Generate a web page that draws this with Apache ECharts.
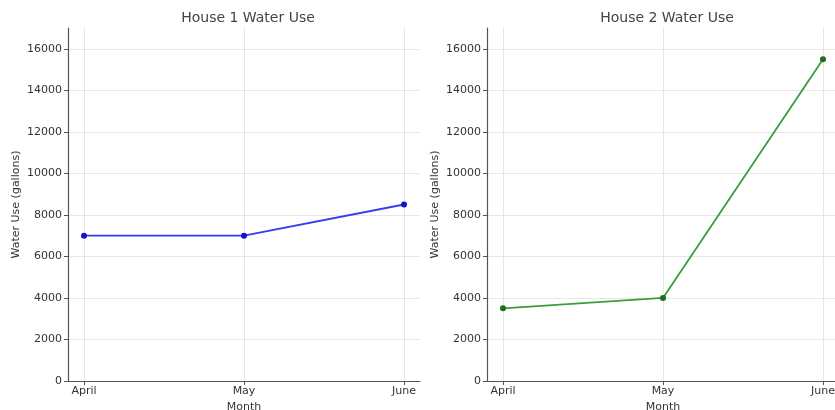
<!DOCTYPE html>
<html>
<head>
<meta charset="utf-8">
<script src="https://cdn.jsdelivr.net/npm/echarts@6/dist/echarts.min.js"></script>
<style>
html,body{margin:0;padding:0;background:#fff;}
#chart{width:835px;height:410px;}
</style>
</head>
<body>
<div id="chart"></div>
<script>
// 数据
var months = ['April', 'May', 'June'];
var house1 = [7000, 7000, 8500];
var house2 = [3500, 4000, 15500];
var titles = ['House 1 Water Use', 'House 2 Water Use'];

var font = 'DejaVu Sans';
var axisColor = '#555';
var gridColor = '#e6e6e6';

function toPoints(vals) {
    return vals.map(function (v, i) { return [i, v]; });
}

// 竖向网格线（按类别位置）
function vLines() {
    return {
        silent: true,
        symbol: 'none',
        z: 1,
        label: { show: false },
        lineStyle: { color: gridColor, type: 'solid', width: 1 },
        data: months.map(function (m, i) { return { xAxis: i }; })
    };
}

function xAxisOf(idx) {
    return {
        type: 'value',
        gridIndex: idx,
        min: -0.1,
        max: 2.1,
        name: 'Month',
        nameLocation: 'middle',
        nameGap: 15,
        nameTextStyle: { color: '#333', fontFamily: font, fontSize: 11 },
        axisLine: { onZero: false, lineStyle: { color: axisColor, width: 1.2 } },
        axisTick: { show: true, length: 4, lineStyle: { color: axisColor }, customValues: [0, 1, 2] },
        axisLabel: {
            color: '#333', fontFamily: font, fontSize: 11, margin: 5,
            customValues: [0, 1, 2],
            formatter: function (v) { return months[Math.round(v)] || ''; }
        },
        splitLine: { show: false }
    };
}

function yAxisOf(idx) {
    return {
        type: 'value',
        gridIndex: idx,
        min: 0,
        max: 17000,
        interval: 2000,
        name: 'Water Use (gallons)',
        nameLocation: 'middle',
        nameGap: 46,
        nameTextStyle: { color: '#333', fontFamily: font, fontSize: 11 },
        axisLine: { show: true, onZero: false, lineStyle: { color: axisColor, width: 1.2 } },
        axisTick: { show: true, length: 4, lineStyle: { color: axisColor } },
        axisLabel: {
            color: '#333', fontFamily: font, fontSize: 11, margin: 6, showMaxLabel: false,
            formatter: function (v) { return String(v); }
        },
        splitLine: { show: true, showMaxLine: false, showMinLine: false, lineStyle: { color: gridColor } }
    };
}

var myChart = echarts.init(document.getElementById('chart'));
myChart.setOption({
    backgroundColor: '#fff',
    animation: false,
    title: [
        { text: titles[0], left: 243, top: 6, textAlign: 'center',
          textStyle: { color: '#444', fontFamily: font, fontWeight: 'normal', fontSize: 14 } },
        { text: titles[1], left: 662, top: 6, textAlign: 'center',
          textStyle: { color: '#444', fontFamily: font, fontWeight: 'normal', fontSize: 14 } }
    ],
    grid: [
        { left: 68, top: 28, width: 352, height: 353, outerBoundsMode: 'none' },
        { left: 487, top: 28, width: 352, height: 353, outerBoundsMode: 'none' }
    ],
    xAxis: [xAxisOf(0), xAxisOf(1)],
    yAxis: [yAxisOf(0), yAxisOf(1)],
    series: [
        {
            type: 'line',
            xAxisIndex: 0, yAxisIndex: 0,
            data: toPoints(house1),
            symbol: 'circle', symbolSize: 6,
            lineStyle: { color: '#3a3af0', width: 1.8 },
            itemStyle: { color: '#1414c8' },
            markLine: vLines(),
            z: 3
        },
        {
            type: 'line',
            xAxisIndex: 1, yAxisIndex: 1,
            data: toPoints(house2),
            symbol: 'circle', symbolSize: 6,
            lineStyle: { color: '#3c9c3c', width: 1.8 },
            itemStyle: { color: '#1d6e1d' },
            markLine: vLines(),
            z: 3
        }
    ]
});
</script>
</body>
</html>
